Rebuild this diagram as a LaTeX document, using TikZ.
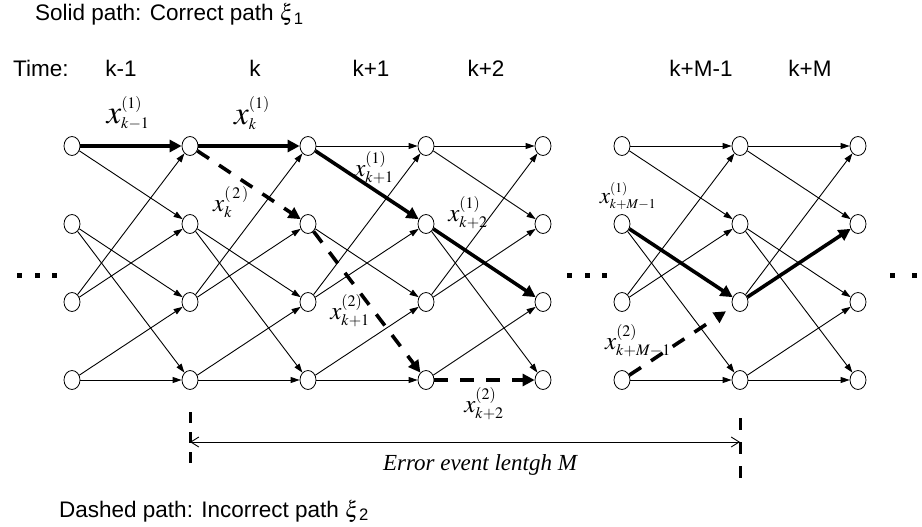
\documentclass[tikz,border=0pt]{standalone}
\usepackage{mathptmx}
\usepackage[no-math]{fontspec}
\setmainfont{Liberation Sans}
\newfontfamily\timesfont{Liberation Serif}
\DeclareMathSizes{33}{33}{16}{12}
\DeclareMathSizes{25}{25}{16}{12}
\DeclareMathSizes{23}{23}{13.5}{10}
\usetikzlibrary{arrows.meta,shapes.geometric}

\begin{document}
\begin{tikzpicture}[x=1pt, y=-1pt,
  state/.style={draw, ellipse, fill=white, minimum width=16pt, minimum height=19pt, inner sep=0pt, line width=0.8pt},
  edge/.style={-{Triangle[length=9pt,width=6pt]}, line width=0.9pt},
  correct/.style={-{Triangle[length=12pt,width=12pt]}, line width=3.6pt},
  wrong/.style={correct, dash pattern=on 14pt off 12pt},
  txt/.style={font=\fontsize{22.5}{27}\selectfont, inner sep=0pt},
  bigx/.style={font=\fontsize{33}{33}\selectfont, inner sep=0pt},
  midx/.style={font=\fontsize{25}{25}\selectfont, inner sep=0pt},
  smallx/.style={font=\fontsize{23}{23}\selectfont, inner sep=0pt},
  tick/.style={line width=3pt},
  span/.style={{Straight Barb[length=8pt,width=10pt]}-{Straight Barb[length=8pt,width=10pt]}, line width=0.9pt}]
\useasboundingbox (0,0) rectangle (922,527);

\node[txt, anchor=base west] (solid) at (35,21) {Solid path: Correct path $\xi$\textsubscript{1}};
\node[txt, anchor=base west] (time) at (13,77) {Time:};
\foreach \lab/\x [count=\i] in {k-1/121, k/255, k+1/371, k+2/486, k+M-1/701, k+M/810}
  \node[txt, anchor=base] (t\i) at (\x,77) {\lab};

% states of the trellis
\foreach \c/\x in {0/72,1/190,2/308,3/426,4/543,5/622,6/740,7/858}
  \foreach \r/\y in {0/146,1/224,2/302,3/380}
    \node[state] (n\c\r) at (\x,\y) {};

% branches that belong to the two paths
\foreach \k in {000,100,101,201,213,312,333,512,532,621}
  {\expandafter\gdef\csname hl\k\endcsname{}}

\foreach \c/\d in {0/1,1/2,2/3,3/4,5/6,6/7}
  \foreach \r/\a/\b in {0/0/1,1/2/3,2/0/1,3/2/3}
    \foreach \s in {\a,\b}{
      \ifcsname hl\c\r\s\endcsname\else
        \draw[edge] (n\c\r) -- (n\d\s);
      \fi
    }

\foreach \a/\b in {n00/n10, n10/n20, n20/n31, n31/n42, n51/n62, n62/n71}
  \draw[correct] (\a) -- (\b);
\foreach \a/\b in {n10/n21, n21/n33, n33/n43}
  \draw[wrong] (\a) -- (\b);
\draw[wrong, shorten >=8pt] (n53) -- (n62);

% dots
\foreach \x in {19.5,37.5,54.5,569.5,587.5,604.5,892.5,914.5}
  \fill (\x-2.5,273) rectangle +(5,5);

% branch labels
\node[bigx] (xa) at (128,113) {$x^{(1)}_{k-1}$};
\node[bigx] (xb) at (252,113) {$x^{(1)}_{k}$};
\node[midx] (xc) at (231,202) {$x^{(\,2\,)}_{k}$};
\node[midx] (xd) at (374,168) {$x^{(1)}_{k+1}$};
\node[midx] (xe) at (468,213) {$x^{(1)}_{k+2}$};
\node[midx] (xf) at (350,311) {$x^{(2)}_{k+1}$};
\node[midx] (xg) at (484,404) {$x^{(2)}_{k+2}$};
\node[smallx] (xh) at (628,196) {$x^{(1)}_{k+M-1}$};
\node[midx] (xi) at (638,341) {$x^{(2)}_{k+M-1}$};

% error event length
\draw[tick, dash pattern=on 10.5pt off 9.5pt] (190,412) -- (190,463);
\draw[tick, dash pattern=on 12pt off 12pt] (740,418) -- (740,480);
\coordinate (eL) at (190,442);
\coordinate (eR) at (740,442);
\draw[span] (eL) -- (eR);
\node[font=\timesfont\itshape\fontsize{23}{27}\selectfont, inner sep=0pt, anchor=base] (len) at (480,470) {Error event lentgh M};

\node[txt, anchor=base west] (dashed) at (59,517) {Dashed path: Incorrect path $\xi$\textsubscript{2}};
\end{tikzpicture}
\end{document}
